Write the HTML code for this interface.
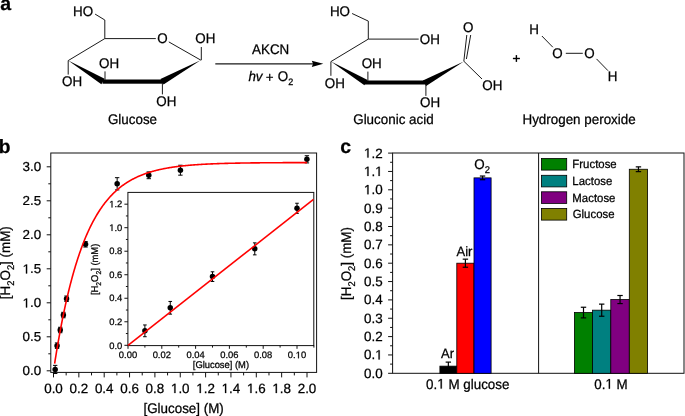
<!DOCTYPE html>
<html><head><meta charset="utf-8"><style>
html,body{margin:0;padding:0;background:#fff;}
svg{display:block;will-change:transform;}
text{font-family:"Liberation Sans",sans-serif;fill:#000;text-rendering:geometricPrecision;stroke:#000;stroke-width:0.25px;}
</style></head><body>
<svg width="685" height="416" viewBox="0 0 685 416">
<rect width="685" height="416" fill="#fff"/>
<text transform="translate(0.33,10.40) scale(1,1.0)" font-size="19.5" font-weight="bold">a</text>
<text transform="translate(73.00,15.60) scale(1,1.04)" font-size="13.4">HO</text>
<line x1="95.10" y1="14.10" x2="104.80" y2="20.00" stroke="#1a1a1a" stroke-width="1.0"/>
<line x1="104.80" y1="20.00" x2="104.80" y2="38.60" stroke="#1a1a1a" stroke-width="1.0"/>
<line x1="104.80" y1="38.60" x2="155.80" y2="38.60" stroke="#1a1a1a" stroke-width="1.0"/>
<text transform="translate(157.17,42.60) scale(1,1.04)" font-size="13.4">O</text>
<line x1="168.80" y1="41.90" x2="200.90" y2="60.20" stroke="#1a1a1a" stroke-width="1.0"/>
<text transform="translate(195.27,43.40) scale(1,1.04)" font-size="13.4">OH</text>
<line x1="201.30" y1="47.00" x2="201.30" y2="60.20" stroke="#1a1a1a" stroke-width="1.0"/>
<line x1="104.80" y1="38.60" x2="68.20" y2="60.60" stroke="#1a1a1a" stroke-width="1.0"/>
<line x1="68.20" y1="60.60" x2="68.20" y2="74.60" stroke="#1a1a1a" stroke-width="1.0"/>
<text transform="translate(61.97,86.00) scale(1,1.04)" font-size="13.4">OH</text>
<polygon points="68.20,60.60 104.65,78.86 101.35,84.34" fill="#000" stroke="none" stroke-width="0"/>
<rect x="102.5" y="79.5" width="60.5" height="4.2" fill="#000"/>
<polygon points="200.60,60.30 160.45,79.00 163.55,84.60" fill="#000" stroke="none" stroke-width="0"/>
<text transform="translate(98.97,68.00) scale(1,1.04)" font-size="13.4">OH</text>
<line x1="105.00" y1="71.40" x2="105.00" y2="80.00" stroke="#1a1a1a" stroke-width="1.0"/>
<text transform="translate(156.37,106.00) scale(1,1.04)" font-size="13.4">OH</text>
<line x1="162.40" y1="83.00" x2="162.40" y2="94.40" stroke="#1a1a1a" stroke-width="1.0"/>
<text transform="translate(107.93,123.50) scale(1,1.04)" font-size="13.4">Glucose</text>
<line x1="215.30" y1="63.80" x2="313.00" y2="63.80" stroke="#1a1a1a" stroke-width="1.2"/>
<polygon points="323.30,63.80 311.80,60.70 313.00,63.80 311.80,66.90" fill="#000" stroke="none" stroke-width="0"/>
<text transform="translate(252.07,54.10) scale(1,1.04)" font-size="13.4">AKCN</text>
<text transform="translate(248.40,81.2) scale(1,1.04)" font-size="13.4"><tspan font-style="italic">hv</tspan> <tspan dx="-0.6" dy="1.1">+</tspan><tspan dx="0.6" dy="-1.1"> O</tspan><tspan font-size="9" dy="3.4">2</tspan></text>
<text transform="translate(329.90,15.90) scale(1,1.04)" font-size="13.4">HO</text>
<line x1="352.10" y1="13.50" x2="368.30" y2="21.10" stroke="#1a1a1a" stroke-width="1.0"/>
<line x1="368.30" y1="21.10" x2="368.30" y2="39.10" stroke="#1a1a1a" stroke-width="1.0"/>
<line x1="368.30" y1="39.10" x2="418.70" y2="39.10" stroke="#1a1a1a" stroke-width="1.0"/>
<text transform="translate(419.77,44.00) scale(1,1.04)" font-size="13.4">OH</text>
<line x1="368.30" y1="39.10" x2="330.90" y2="61.60" stroke="#1a1a1a" stroke-width="1.0"/>
<line x1="330.90" y1="61.60" x2="330.90" y2="75.80" stroke="#1a1a1a" stroke-width="1.0"/>
<text transform="translate(324.87,87.80) scale(1,1.04)" font-size="13.4">OH</text>
<polygon points="331.00,61.60 367.60,79.90 364.40,85.30" fill="#000" stroke="none" stroke-width="0"/>
<rect x="365" y="80.5" width="61" height="4.0" fill="#000"/>
<polygon points="463.80,61.40 422.90,80.40 426.10,86.00" fill="#000" stroke="none" stroke-width="0"/>
<text transform="translate(361.67,68.40) scale(1,1.04)" font-size="13.4">OH</text>
<line x1="367.90" y1="71.60" x2="367.90" y2="81.00" stroke="#1a1a1a" stroke-width="1.0"/>
<text transform="translate(420.07,107.00) scale(1,1.04)" font-size="13.4">OH</text>
<line x1="425.90" y1="84.00" x2="425.90" y2="95.90" stroke="#1a1a1a" stroke-width="1.0"/>
<text transform="translate(482.37,89.50) scale(1,1.04)" font-size="13.4">OH</text>
<line x1="464.00" y1="61.40" x2="482.00" y2="79.00" stroke="#1a1a1a" stroke-width="1.0"/>
<line x1="463.80" y1="61.40" x2="466.80" y2="35.00" stroke="#1a1a1a" stroke-width="1.0"/>
<line x1="466.40" y1="59.00" x2="470.70" y2="35.00" stroke="#1a1a1a" stroke-width="1.0"/>
<text transform="translate(462.97,31.70) scale(1,1.04)" font-size="13.4">O</text>
<text transform="translate(353.23,123.50) scale(1,1.04)" font-size="13.4">Gluconic acid</text>
<line x1="512.90" y1="58.50" x2="519.90" y2="58.50" stroke="#000" stroke-width="1.4"/>
<line x1="516.40" y1="55.10" x2="516.40" y2="61.90" stroke="#000" stroke-width="1.4"/>
<text transform="translate(529.20,33.90) scale(1,1.04)" font-size="13.4">H</text>
<line x1="541.90" y1="36.00" x2="552.80" y2="47.20" stroke="#1a1a1a" stroke-width="1.0"/>
<text transform="translate(552.17,58.20) scale(1,1.04)" font-size="13.4">O</text>
<line x1="565.80" y1="53.30" x2="582.80" y2="53.30" stroke="#1a1a1a" stroke-width="1.0"/>
<text transform="translate(584.27,58.20) scale(1,1.04)" font-size="13.4">O</text>
<line x1="596.50" y1="58.90" x2="608.00" y2="70.70" stroke="#1a1a1a" stroke-width="1.0"/>
<text transform="translate(607.70,80.90) scale(1,1.04)" font-size="13.4">H</text>
<text transform="translate(522.50,124.00) scale(1,1.04)" font-size="13.4">Hydrogen peroxide</text>
<text transform="translate(-1.30,153.10) scale(1,1.0)" font-size="19.2" font-weight="bold">b</text>
<rect x="50.8" y="153.0" width="265.8" height="219.39999999999998" fill="none" stroke="#111" stroke-width="1"/>
<line x1="46.70" y1="370.80" x2="50.80" y2="370.80" stroke="#111" stroke-width="1"/>
<text transform="translate(22.57,375.40) scale(1,0.97)" font-size="13.4">0.0</text>
<line x1="48.30" y1="353.80" x2="50.80" y2="353.80" stroke="#111" stroke-width="1"/>
<line x1="46.70" y1="336.80" x2="50.80" y2="336.80" stroke="#111" stroke-width="1"/>
<text transform="translate(22.57,341.40) scale(1,0.97)" font-size="13.4">0.5</text>
<line x1="48.30" y1="319.80" x2="50.80" y2="319.80" stroke="#111" stroke-width="1"/>
<line x1="46.70" y1="302.80" x2="50.80" y2="302.80" stroke="#111" stroke-width="1"/>
<text transform="translate(22.57,307.40) scale(1,0.97)" font-size="13.4"> .0</text>
<path d="M515 0L515 1237L197 1010L197 1180L530 1409L696 1409L696 0Z" transform="translate(22.57,307.40) scale(0.00654,-0.00635)" fill="#000" stroke="#000" stroke-width="38.2"/>
<line x1="48.30" y1="285.80" x2="50.80" y2="285.80" stroke="#111" stroke-width="1"/>
<line x1="46.70" y1="268.80" x2="50.80" y2="268.80" stroke="#111" stroke-width="1"/>
<text transform="translate(22.57,273.40) scale(1,0.97)" font-size="13.4"> .5</text>
<path d="M515 0L515 1237L197 1010L197 1180L530 1409L696 1409L696 0Z" transform="translate(22.57,273.40) scale(0.00654,-0.00635)" fill="#000" stroke="#000" stroke-width="38.2"/>
<line x1="48.30" y1="251.80" x2="50.80" y2="251.80" stroke="#111" stroke-width="1"/>
<line x1="46.70" y1="234.80" x2="50.80" y2="234.80" stroke="#111" stroke-width="1"/>
<text transform="translate(22.57,239.40) scale(1,0.97)" font-size="13.4">2.0</text>
<line x1="48.30" y1="217.80" x2="50.80" y2="217.80" stroke="#111" stroke-width="1"/>
<line x1="46.70" y1="200.80" x2="50.80" y2="200.80" stroke="#111" stroke-width="1"/>
<text transform="translate(22.57,205.40) scale(1,0.97)" font-size="13.4">2.5</text>
<line x1="48.30" y1="183.80" x2="50.80" y2="183.80" stroke="#111" stroke-width="1"/>
<line x1="46.70" y1="166.80" x2="50.80" y2="166.80" stroke="#111" stroke-width="1"/>
<text transform="translate(22.57,171.40) scale(1,0.97)" font-size="13.4">3.0</text>
<line x1="53.50" y1="372.40" x2="53.50" y2="377.40" stroke="#111" stroke-width="1"/>
<text transform="translate(44.19,393.00) scale(1,1.0)" font-size="13.4">0.0</text>
<line x1="66.17" y1="372.40" x2="66.17" y2="375.40" stroke="#111" stroke-width="1"/>
<line x1="78.85" y1="372.40" x2="78.85" y2="377.40" stroke="#111" stroke-width="1"/>
<text transform="translate(69.54,393.00) scale(1,1.0)" font-size="13.4">0.2</text>
<line x1="91.53" y1="372.40" x2="91.53" y2="375.40" stroke="#111" stroke-width="1"/>
<line x1="104.20" y1="372.40" x2="104.20" y2="377.40" stroke="#111" stroke-width="1"/>
<text transform="translate(94.89,393.00) scale(1,1.0)" font-size="13.4">0.4</text>
<line x1="116.88" y1="372.40" x2="116.88" y2="375.40" stroke="#111" stroke-width="1"/>
<line x1="129.55" y1="372.40" x2="129.55" y2="377.40" stroke="#111" stroke-width="1"/>
<text transform="translate(120.24,393.00) scale(1,1.0)" font-size="13.4">0.6</text>
<line x1="142.23" y1="372.40" x2="142.23" y2="375.40" stroke="#111" stroke-width="1"/>
<line x1="154.90" y1="372.40" x2="154.90" y2="377.40" stroke="#111" stroke-width="1"/>
<text transform="translate(145.59,393.00) scale(1,1.0)" font-size="13.4">0.8</text>
<line x1="167.57" y1="372.40" x2="167.57" y2="375.40" stroke="#111" stroke-width="1"/>
<line x1="180.25" y1="372.40" x2="180.25" y2="377.40" stroke="#111" stroke-width="1"/>
<text transform="translate(170.94,393.00) scale(1,1.0)" font-size="13.4"> .0</text>
<path d="M515 0L515 1237L197 1010L197 1180L530 1409L696 1409L696 0Z" transform="translate(170.94,393.00) scale(0.00654,-0.00654)" fill="#000" stroke="#000" stroke-width="38.2"/>
<line x1="192.93" y1="372.40" x2="192.93" y2="375.40" stroke="#111" stroke-width="1"/>
<line x1="205.60" y1="372.40" x2="205.60" y2="377.40" stroke="#111" stroke-width="1"/>
<text transform="translate(196.29,393.00) scale(1,1.0)" font-size="13.4"> .2</text>
<path d="M515 0L515 1237L197 1010L197 1180L530 1409L696 1409L696 0Z" transform="translate(196.29,393.00) scale(0.00654,-0.00654)" fill="#000" stroke="#000" stroke-width="38.2"/>
<line x1="218.28" y1="372.40" x2="218.28" y2="375.40" stroke="#111" stroke-width="1"/>
<line x1="230.95" y1="372.40" x2="230.95" y2="377.40" stroke="#111" stroke-width="1"/>
<text transform="translate(221.64,393.00) scale(1,1.0)" font-size="13.4"> .4</text>
<path d="M515 0L515 1237L197 1010L197 1180L530 1409L696 1409L696 0Z" transform="translate(221.64,393.00) scale(0.00654,-0.00654)" fill="#000" stroke="#000" stroke-width="38.2"/>
<line x1="243.62" y1="372.40" x2="243.62" y2="375.40" stroke="#111" stroke-width="1"/>
<line x1="256.30" y1="372.40" x2="256.30" y2="377.40" stroke="#111" stroke-width="1"/>
<text transform="translate(246.99,393.00) scale(1,1.0)" font-size="13.4"> .6</text>
<path d="M515 0L515 1237L197 1010L197 1180L530 1409L696 1409L696 0Z" transform="translate(246.99,393.00) scale(0.00654,-0.00654)" fill="#000" stroke="#000" stroke-width="38.2"/>
<line x1="268.98" y1="372.40" x2="268.98" y2="375.40" stroke="#111" stroke-width="1"/>
<line x1="281.65" y1="372.40" x2="281.65" y2="377.40" stroke="#111" stroke-width="1"/>
<text transform="translate(272.34,393.00) scale(1,1.0)" font-size="13.4"> .8</text>
<path d="M515 0L515 1237L197 1010L197 1180L530 1409L696 1409L696 0Z" transform="translate(272.34,393.00) scale(0.00654,-0.00654)" fill="#000" stroke="#000" stroke-width="38.2"/>
<line x1="294.33" y1="372.40" x2="294.33" y2="375.40" stroke="#111" stroke-width="1"/>
<line x1="307.00" y1="372.40" x2="307.00" y2="377.40" stroke="#111" stroke-width="1"/>
<text transform="translate(297.69,393.00) scale(1,1.0)" font-size="13.4">2.0</text>
<text transform="translate(183.60,412.50) scale(1,1.04)" font-size="13.4" text-anchor="middle">[Glucose] (M)</text>
<text transform="translate(9.8,262.7) rotate(-90) scale(1,1.04)" font-size="13.4" text-anchor="middle">[H<tspan font-size="9.4" dy="3.8">2</tspan><tspan dy="-3.8">O</tspan><tspan font-size="9.4" dy="3.8">2</tspan><tspan dy="-3.8">] (mM)</tspan></text>
<line x1="55.16" y1="365.36" x2="55.16" y2="373.52" stroke="#000" stroke-width="1"/>
<line x1="52.96" y1="365.36" x2="57.37" y2="365.36" stroke="#000" stroke-width="1"/>
<line x1="52.96" y1="373.52" x2="57.37" y2="373.52" stroke="#000" stroke-width="1"/>
<circle cx="55.16" cy="369.44" r="2.75" fill="#000"/>
<line x1="57.06" y1="342.92" x2="57.06" y2="348.36" stroke="#000" stroke-width="1"/>
<line x1="54.86" y1="342.92" x2="59.26" y2="342.92" stroke="#000" stroke-width="1"/>
<line x1="54.86" y1="348.36" x2="59.26" y2="348.36" stroke="#000" stroke-width="1"/>
<circle cx="57.06" cy="345.64" r="2.75" fill="#000"/>
<line x1="60.23" y1="327.28" x2="60.23" y2="332.72" stroke="#000" stroke-width="1"/>
<line x1="58.02" y1="327.28" x2="62.43" y2="327.28" stroke="#000" stroke-width="1"/>
<line x1="58.02" y1="332.72" x2="62.43" y2="332.72" stroke="#000" stroke-width="1"/>
<circle cx="60.23" cy="330.00" r="2.75" fill="#000"/>
<line x1="63.39" y1="312.32" x2="63.39" y2="317.76" stroke="#000" stroke-width="1"/>
<line x1="61.19" y1="312.32" x2="65.59" y2="312.32" stroke="#000" stroke-width="1"/>
<line x1="61.19" y1="317.76" x2="65.59" y2="317.76" stroke="#000" stroke-width="1"/>
<circle cx="63.39" cy="315.04" r="2.75" fill="#000"/>
<line x1="66.55" y1="296.00" x2="66.55" y2="301.44" stroke="#000" stroke-width="1"/>
<line x1="64.35" y1="296.00" x2="68.75" y2="296.00" stroke="#000" stroke-width="1"/>
<line x1="64.35" y1="301.44" x2="68.75" y2="301.44" stroke="#000" stroke-width="1"/>
<circle cx="66.55" cy="298.72" r="2.75" fill="#000"/>
<line x1="85.53" y1="241.60" x2="85.53" y2="247.04" stroke="#000" stroke-width="1"/>
<line x1="83.33" y1="241.60" x2="87.73" y2="241.60" stroke="#000" stroke-width="1"/>
<line x1="83.33" y1="247.04" x2="87.73" y2="247.04" stroke="#000" stroke-width="1"/>
<circle cx="85.53" cy="244.32" r="2.75" fill="#000"/>
<line x1="117.15" y1="177.68" x2="117.15" y2="189.92" stroke="#000" stroke-width="1"/>
<line x1="114.95" y1="177.68" x2="119.35" y2="177.68" stroke="#000" stroke-width="1"/>
<line x1="114.95" y1="189.92" x2="119.35" y2="189.92" stroke="#000" stroke-width="1"/>
<circle cx="117.15" cy="183.80" r="2.75" fill="#000"/>
<line x1="148.78" y1="171.90" x2="148.78" y2="178.70" stroke="#000" stroke-width="1"/>
<line x1="146.58" y1="171.90" x2="150.97" y2="171.90" stroke="#000" stroke-width="1"/>
<line x1="146.58" y1="178.70" x2="150.97" y2="178.70" stroke="#000" stroke-width="1"/>
<circle cx="148.78" cy="175.30" r="2.75" fill="#000"/>
<line x1="180.40" y1="165.24" x2="180.40" y2="175.16" stroke="#000" stroke-width="1"/>
<line x1="178.20" y1="165.24" x2="182.60" y2="165.24" stroke="#000" stroke-width="1"/>
<line x1="178.20" y1="175.16" x2="182.60" y2="175.16" stroke="#000" stroke-width="1"/>
<circle cx="180.40" cy="170.20" r="2.75" fill="#000"/>
<line x1="306.90" y1="155.72" x2="306.90" y2="162.92" stroke="#000" stroke-width="1"/>
<line x1="304.70" y1="155.72" x2="309.10" y2="155.72" stroke="#000" stroke-width="1"/>
<line x1="304.70" y1="162.92" x2="309.10" y2="162.92" stroke="#000" stroke-width="1"/>
<circle cx="306.90" cy="159.32" r="2.75" fill="#000"/>
<polyline points="54.64,363.51 55.27,359.49 55.91,355.56 56.54,351.70 57.17,347.92 57.80,344.22 58.44,340.59 59.07,337.03 59.70,333.55 60.33,330.13 60.97,326.78 61.60,323.50 62.23,320.28 62.86,317.13 63.50,314.04 64.13,311.02 64.76,308.05 65.39,305.14 66.03,302.29 66.66,299.50 67.29,296.77 67.92,294.08 68.56,291.46 69.19,288.88 69.82,286.36 70.45,283.88 71.09,281.46 71.72,279.08 72.35,276.75 72.98,274.47 73.62,272.24 74.25,270.04 74.88,267.90 75.51,265.79 76.15,263.73 76.78,261.71 77.41,259.73 78.04,257.78 78.67,255.88 79.31,254.02 79.94,252.19 80.57,250.40 81.20,248.64 81.84,246.92 82.47,245.24 83.10,243.58 83.73,241.97 84.37,240.38 85.00,238.82 85.63,237.30 86.26,235.81 86.90,234.34 87.53,232.91 88.16,231.50 88.79,230.12 89.43,228.77 90.06,227.45 90.69,226.15 91.32,224.88 91.96,223.64 92.59,222.42 93.22,221.22 93.85,220.05 94.49,218.90 95.12,217.77 95.75,216.67 96.38,215.59 97.02,214.53 97.65,213.49 98.28,212.47 98.91,211.47 99.55,210.50 100.18,209.54 100.81,208.60 101.44,207.68 102.08,206.78 102.71,205.89 103.34,205.03 103.97,204.18 104.61,203.35 105.24,202.53 105.87,201.73 106.50,200.95 107.14,200.18 107.77,199.43 108.40,198.69 109.03,197.97 109.67,197.26 110.30,196.57 110.93,195.89 111.56,195.22 112.20,194.57 112.83,193.93 113.46,193.30 114.09,192.69 114.73,192.08 115.36,191.49 115.99,190.92 116.62,190.35 117.26,189.79 117.89,189.25 118.52,188.72 119.15,188.19 119.79,187.68 120.42,187.18 121.05,186.69 121.68,186.20 122.32,185.73 122.95,185.27 123.58,184.81 124.21,184.37 124.85,183.93 125.48,183.50 126.11,183.08 126.74,182.67 127.38,182.27 128.01,181.88 128.64,181.49 129.27,181.11 129.91,180.74 130.54,180.38 131.17,180.02 131.80,179.67 132.44,179.33 133.07,178.99 133.70,178.67 134.33,178.34 134.97,178.03 135.60,177.72 136.23,177.41 136.86,177.12 137.50,176.83 138.13,176.54 138.76,176.26 139.39,175.99 140.03,175.72 140.66,175.45 141.29,175.20 141.92,174.94 142.56,174.70 143.19,174.45 143.82,174.21 144.45,173.98 145.09,173.75 145.72,173.53 146.35,173.31 146.98,173.09 147.62,172.88 148.25,172.68 148.88,172.47 149.51,172.28 150.15,172.08 150.78,171.89 151.41,171.70 152.04,171.52 152.68,171.34 153.31,171.16 153.94,170.99 154.57,170.82 155.20,170.66 155.84,170.50 156.47,170.34 157.10,170.18 157.73,170.03 158.37,169.88 159.00,169.73 159.63,169.59 160.26,169.45 160.90,169.31 161.53,169.17 162.16,169.04 162.79,168.91 163.43,168.78 164.06,168.66 164.69,168.54 165.32,168.42 165.96,168.30 166.59,168.18 167.22,168.07 167.85,167.96 168.49,167.85 169.12,167.75 169.75,167.64 170.38,167.54 171.02,167.44 171.65,167.34 172.28,167.25 172.91,167.15 173.55,167.06 174.18,166.97 174.81,166.88 175.44,166.79 176.08,166.71 176.71,166.63 177.34,166.54 177.97,166.46 178.61,166.39 179.24,166.31 179.87,166.23 180.50,166.16 181.14,166.09 181.77,166.02 182.40,165.95 183.03,165.88 183.67,165.81 184.30,165.75 184.93,165.68 185.56,165.62 186.20,165.56 186.83,165.50 187.46,165.44 188.09,165.38 188.73,165.32 189.36,165.27 189.99,165.21 190.62,165.16 191.26,165.11 191.89,165.06 192.52,165.01 193.15,164.96 193.79,164.91 194.42,164.86 195.05,164.81 195.68,164.77 196.32,164.72 196.95,164.68 197.58,164.64 198.21,164.60 198.85,164.55 199.48,164.51 200.11,164.47 200.74,164.44 201.38,164.40 202.01,164.36 202.64,164.32 203.27,164.29 203.91,164.25 204.54,164.22 205.17,164.19 205.80,164.15 206.44,164.12 207.07,164.09 207.70,164.06 208.33,164.03 208.97,164.00 209.60,163.97 210.23,163.94 210.86,163.91 211.50,163.88 212.13,163.86 212.76,163.83 213.39,163.80 214.03,163.78 214.66,163.75 215.29,163.73 215.92,163.71 216.56,163.68 217.19,163.66 217.82,163.64 218.45,163.62 219.09,163.59 219.72,163.57 220.35,163.55 220.98,163.53 221.62,163.51 222.25,163.49 222.88,163.47 223.51,163.45 224.15,163.44 224.78,163.42 225.41,163.40 226.04,163.38 226.68,163.37 227.31,163.35 227.94,163.33 228.57,163.32 229.21,163.30 229.84,163.29 230.47,163.27 231.10,163.26 231.73,163.24 232.37,163.23 233.00,163.22 233.63,163.20 234.26,163.19 234.90,163.18 235.53,163.16 236.16,163.15 236.79,163.14 237.43,163.13 238.06,163.11 238.69,163.10 239.32,163.09 239.96,163.08 240.59,163.07 241.22,163.06 241.85,163.05 242.49,163.04 243.12,163.03 243.75,163.02 244.38,163.01 245.02,163.00 245.65,162.99 246.28,162.98 246.91,162.97 247.55,162.96 248.18,162.95 248.81,162.95 249.44,162.94 250.08,162.93 250.71,162.92 251.34,162.91 251.97,162.91 252.61,162.90 253.24,162.89 253.87,162.89 254.50,162.88 255.14,162.87 255.77,162.86 256.40,162.86 257.03,162.85 257.67,162.85 258.30,162.84 258.93,162.83 259.56,162.83 260.20,162.82 260.83,162.82 261.46,162.81 262.09,162.80 262.73,162.80 263.36,162.79 263.99,162.79 264.62,162.78 265.26,162.78 265.89,162.77 266.52,162.77 267.15,162.76 267.79,162.76 268.42,162.76 269.05,162.75 269.68,162.75 270.32,162.74 270.95,162.74 271.58,162.73 272.21,162.73 272.85,162.73 273.48,162.72 274.11,162.72 274.74,162.72 275.38,162.71 276.01,162.71 276.64,162.71 277.27,162.70 277.91,162.70 278.54,162.70 279.17,162.69 279.80,162.69 280.44,162.69 281.07,162.68 281.70,162.68 282.33,162.68 282.97,162.67 283.60,162.67 284.23,162.67 284.86,162.67 285.50,162.66 286.13,162.66 286.76,162.66 287.39,162.66 288.03,162.65 288.66,162.65 289.29,162.65 289.92,162.65 290.56,162.64 291.19,162.64 291.82,162.64 292.45,162.64 293.09,162.64 293.72,162.63 294.35,162.63 294.98,162.63 295.62,162.63 296.25,162.63 296.88,162.62 297.51,162.62 298.15,162.62 298.78,162.62 299.41,162.62 300.04,162.62 300.68,162.61 301.31,162.61 301.94,162.61 302.57,162.61 303.21,162.61 303.84,162.61 304.47,162.61 305.10,162.60 305.74,162.60 306.37,162.60 307.00,162.60" fill="none" stroke="#ff0000" stroke-width="1.6"/>
<rect x="127.9" y="192.4" width="185.9" height="153.20000000000002" fill="#fff" stroke="#111" stroke-width="1"/>
<line x1="124.40" y1="345.30" x2="127.90" y2="345.30" stroke="#111" stroke-width="1"/>
<text transform="translate(109.23,348.50) scale(1,1.0)" font-size="9.4">0.0</text>
<line x1="125.90" y1="333.54" x2="127.90" y2="333.54" stroke="#111" stroke-width="1"/>
<line x1="124.40" y1="321.78" x2="127.90" y2="321.78" stroke="#111" stroke-width="1"/>
<text transform="translate(109.23,324.98) scale(1,1.0)" font-size="9.4">0.2</text>
<line x1="125.90" y1="310.02" x2="127.90" y2="310.02" stroke="#111" stroke-width="1"/>
<line x1="124.40" y1="298.26" x2="127.90" y2="298.26" stroke="#111" stroke-width="1"/>
<text transform="translate(109.23,301.46) scale(1,1.0)" font-size="9.4">0.4</text>
<line x1="125.90" y1="286.50" x2="127.90" y2="286.50" stroke="#111" stroke-width="1"/>
<line x1="124.40" y1="274.74" x2="127.90" y2="274.74" stroke="#111" stroke-width="1"/>
<text transform="translate(109.23,277.94) scale(1,1.0)" font-size="9.4">0.6</text>
<line x1="125.90" y1="262.98" x2="127.90" y2="262.98" stroke="#111" stroke-width="1"/>
<line x1="124.40" y1="251.22" x2="127.90" y2="251.22" stroke="#111" stroke-width="1"/>
<text transform="translate(109.23,254.42) scale(1,1.0)" font-size="9.4">0.8</text>
<line x1="125.90" y1="239.46" x2="127.90" y2="239.46" stroke="#111" stroke-width="1"/>
<line x1="124.40" y1="227.70" x2="127.90" y2="227.70" stroke="#111" stroke-width="1"/>
<text transform="translate(109.23,230.90) scale(1,1.0)" font-size="9.4"> .0</text>
<path d="M515 0L515 1237L197 1010L197 1180L530 1409L696 1409L696 0Z" transform="translate(109.23,230.90) scale(0.00459,-0.00459)" fill="#000" stroke="#000" stroke-width="54.5"/>
<line x1="125.90" y1="215.94" x2="127.90" y2="215.94" stroke="#111" stroke-width="1"/>
<line x1="124.40" y1="204.18" x2="127.90" y2="204.18" stroke="#111" stroke-width="1"/>
<text transform="translate(109.23,207.38) scale(1,1.0)" font-size="9.4"> .2</text>
<path d="M515 0L515 1237L197 1010L197 1180L530 1409L696 1409L696 0Z" transform="translate(109.23,207.38) scale(0.00459,-0.00459)" fill="#000" stroke="#000" stroke-width="54.5"/>
<line x1="128.00" y1="345.60" x2="128.00" y2="348.80" stroke="#111" stroke-width="1"/>
<text transform="translate(118.85,358.30) scale(1,1.0)" font-size="9.4">0.00</text>
<line x1="144.90" y1="345.60" x2="144.90" y2="347.60" stroke="#111" stroke-width="1"/>
<line x1="161.80" y1="345.60" x2="161.80" y2="348.80" stroke="#111" stroke-width="1"/>
<text transform="translate(152.65,358.30) scale(1,1.0)" font-size="9.4">0.02</text>
<line x1="178.70" y1="345.60" x2="178.70" y2="347.60" stroke="#111" stroke-width="1"/>
<line x1="195.60" y1="345.60" x2="195.60" y2="348.80" stroke="#111" stroke-width="1"/>
<text transform="translate(186.45,358.30) scale(1,1.0)" font-size="9.4">0.04</text>
<line x1="212.50" y1="345.60" x2="212.50" y2="347.60" stroke="#111" stroke-width="1"/>
<line x1="229.40" y1="345.60" x2="229.40" y2="348.80" stroke="#111" stroke-width="1"/>
<text transform="translate(220.25,358.30) scale(1,1.0)" font-size="9.4">0.06</text>
<line x1="246.30" y1="345.60" x2="246.30" y2="347.60" stroke="#111" stroke-width="1"/>
<line x1="263.20" y1="345.60" x2="263.20" y2="348.80" stroke="#111" stroke-width="1"/>
<text transform="translate(254.05,358.30) scale(1,1.0)" font-size="9.4">0.08</text>
<line x1="280.10" y1="345.60" x2="280.10" y2="347.60" stroke="#111" stroke-width="1"/>
<line x1="297.00" y1="345.60" x2="297.00" y2="348.80" stroke="#111" stroke-width="1"/>
<text transform="translate(287.85,358.30) scale(1,1.0)" font-size="9.4">0. 0</text>
<path d="M515 0L515 1237L197 1010L197 1180L530 1409L696 1409L696 0Z" transform="translate(295.69,358.30) scale(0.00459,-0.00459)" fill="#000" stroke="#000" stroke-width="54.5"/>
<line x1="313.90" y1="345.60" x2="313.90" y2="347.60" stroke="#111" stroke-width="1"/>
<text transform="translate(220.90,368.30) scale(1,1.04)" font-size="9.4" text-anchor="middle">[Glucose] (M)</text>
<text transform="translate(97.5,269.4) rotate(-90) scale(1,1.04)" font-size="9.4" text-anchor="middle">[H<tspan font-size="6.8" dy="3.8">2</tspan><tspan dy="-3.8">O</tspan><tspan font-size="6.8" dy="3.8">2</tspan><tspan dy="-3.8">] (mM)</tspan></text>
<line x1="144.90" y1="324.96" x2="144.90" y2="336.72" stroke="#000" stroke-width="1"/>
<line x1="143.10" y1="324.96" x2="146.70" y2="324.96" stroke="#000" stroke-width="1"/>
<line x1="143.10" y1="336.72" x2="146.70" y2="336.72" stroke="#000" stroke-width="1"/>
<circle cx="144.90" cy="330.84" r="2.75" fill="#000"/>
<line x1="170.25" y1="301.44" x2="170.25" y2="314.14" stroke="#000" stroke-width="1"/>
<line x1="168.45" y1="301.44" x2="172.05" y2="301.44" stroke="#000" stroke-width="1"/>
<line x1="168.45" y1="314.14" x2="172.05" y2="314.14" stroke="#000" stroke-width="1"/>
<circle cx="170.25" cy="307.79" r="2.75" fill="#000"/>
<line x1="212.50" y1="271.80" x2="212.50" y2="281.44" stroke="#000" stroke-width="1"/>
<line x1="210.70" y1="271.80" x2="214.30" y2="271.80" stroke="#000" stroke-width="1"/>
<line x1="210.70" y1="281.44" x2="214.30" y2="281.44" stroke="#000" stroke-width="1"/>
<circle cx="212.50" cy="276.62" r="2.75" fill="#000"/>
<line x1="254.75" y1="242.87" x2="254.75" y2="254.87" stroke="#000" stroke-width="1"/>
<line x1="252.95" y1="242.87" x2="256.55" y2="242.87" stroke="#000" stroke-width="1"/>
<line x1="252.95" y1="254.87" x2="256.55" y2="254.87" stroke="#000" stroke-width="1"/>
<circle cx="254.75" cy="248.87" r="2.75" fill="#000"/>
<line x1="297.00" y1="203.24" x2="297.00" y2="213.35" stroke="#000" stroke-width="1"/>
<line x1="295.20" y1="203.24" x2="298.80" y2="203.24" stroke="#000" stroke-width="1"/>
<line x1="295.20" y1="213.35" x2="298.80" y2="213.35" stroke="#000" stroke-width="1"/>
<circle cx="297.00" cy="208.30" r="2.75" fill="#000"/>
<line x1="128.00" y1="345.30" x2="313.50" y2="199.44" stroke="#ff0000" stroke-width="1.6"/>
<text transform="translate(340.24,153.30) scale(1,1.0)" font-size="19.5" font-weight="bold">c</text>
<rect x="392.6" y="153.0" width="291.4" height="220.3" fill="none" stroke="#111" stroke-width="1"/>
<line x1="538.60" y1="153.00" x2="538.60" y2="373.30" stroke="#111" stroke-width="1"/>
<line x1="388.10" y1="373.30" x2="392.60" y2="373.30" stroke="#111" stroke-width="1"/>
<text transform="translate(363.97,377.80) scale(1,1.0)" font-size="13.4">0.0</text>
<line x1="390.10" y1="364.12" x2="392.60" y2="364.12" stroke="#111" stroke-width="1"/>
<line x1="388.10" y1="354.95" x2="392.60" y2="354.95" stroke="#111" stroke-width="1"/>
<text transform="translate(363.97,359.45) scale(1,1.0)" font-size="13.4">0. </text>
<path d="M515 0L515 1237L197 1010L197 1180L530 1409L696 1409L696 0Z" transform="translate(375.15,359.45) scale(0.00654,-0.00654)" fill="#000" stroke="#000" stroke-width="38.2"/>
<line x1="390.10" y1="345.77" x2="392.60" y2="345.77" stroke="#111" stroke-width="1"/>
<line x1="388.10" y1="336.60" x2="392.60" y2="336.60" stroke="#111" stroke-width="1"/>
<text transform="translate(363.97,341.10) scale(1,1.0)" font-size="13.4">0.2</text>
<line x1="390.10" y1="327.43" x2="392.60" y2="327.43" stroke="#111" stroke-width="1"/>
<line x1="388.10" y1="318.25" x2="392.60" y2="318.25" stroke="#111" stroke-width="1"/>
<text transform="translate(363.97,322.75) scale(1,1.0)" font-size="13.4">0.3</text>
<line x1="390.10" y1="309.07" x2="392.60" y2="309.07" stroke="#111" stroke-width="1"/>
<line x1="388.10" y1="299.90" x2="392.60" y2="299.90" stroke="#111" stroke-width="1"/>
<text transform="translate(363.97,304.40) scale(1,1.0)" font-size="13.4">0.4</text>
<line x1="390.10" y1="290.73" x2="392.60" y2="290.73" stroke="#111" stroke-width="1"/>
<line x1="388.10" y1="281.55" x2="392.60" y2="281.55" stroke="#111" stroke-width="1"/>
<text transform="translate(363.97,286.05) scale(1,1.0)" font-size="13.4">0.5</text>
<line x1="390.10" y1="272.38" x2="392.60" y2="272.38" stroke="#111" stroke-width="1"/>
<line x1="388.10" y1="263.20" x2="392.60" y2="263.20" stroke="#111" stroke-width="1"/>
<text transform="translate(363.97,267.70) scale(1,1.0)" font-size="13.4">0.6</text>
<line x1="390.10" y1="254.03" x2="392.60" y2="254.03" stroke="#111" stroke-width="1"/>
<line x1="388.10" y1="244.85" x2="392.60" y2="244.85" stroke="#111" stroke-width="1"/>
<text transform="translate(363.97,249.35) scale(1,1.0)" font-size="13.4">0.7</text>
<line x1="390.10" y1="235.68" x2="392.60" y2="235.68" stroke="#111" stroke-width="1"/>
<line x1="388.10" y1="226.50" x2="392.60" y2="226.50" stroke="#111" stroke-width="1"/>
<text transform="translate(363.97,231.00) scale(1,1.0)" font-size="13.4">0.8</text>
<line x1="390.10" y1="217.32" x2="392.60" y2="217.32" stroke="#111" stroke-width="1"/>
<line x1="388.10" y1="208.15" x2="392.60" y2="208.15" stroke="#111" stroke-width="1"/>
<text transform="translate(363.97,212.65) scale(1,1.0)" font-size="13.4">0.9</text>
<line x1="390.10" y1="198.97" x2="392.60" y2="198.97" stroke="#111" stroke-width="1"/>
<line x1="388.10" y1="189.80" x2="392.60" y2="189.80" stroke="#111" stroke-width="1"/>
<text transform="translate(363.97,194.30) scale(1,1.0)" font-size="13.4"> .0</text>
<path d="M515 0L515 1237L197 1010L197 1180L530 1409L696 1409L696 0Z" transform="translate(363.97,194.30) scale(0.00654,-0.00654)" fill="#000" stroke="#000" stroke-width="38.2"/>
<line x1="390.10" y1="180.62" x2="392.60" y2="180.62" stroke="#111" stroke-width="1"/>
<line x1="388.10" y1="171.45" x2="392.60" y2="171.45" stroke="#111" stroke-width="1"/>
<text transform="translate(363.97,175.95) scale(1,1.0)" font-size="13.4"> . </text>
<path d="M515 0L515 1237L197 1010L197 1180L530 1409L696 1409L696 0Z" transform="translate(363.97,175.95) scale(0.00654,-0.00654)" fill="#000" stroke="#000" stroke-width="38.2"/>
<path d="M515 0L515 1237L197 1010L197 1180L530 1409L696 1409L696 0Z" transform="translate(375.15,175.95) scale(0.00654,-0.00654)" fill="#000" stroke="#000" stroke-width="38.2"/>
<line x1="390.10" y1="162.27" x2="392.60" y2="162.27" stroke="#111" stroke-width="1"/>
<line x1="388.10" y1="153.10" x2="392.60" y2="153.10" stroke="#111" stroke-width="1"/>
<text transform="translate(363.97,157.60) scale(1,1.0)" font-size="13.4"> .2</text>
<path d="M515 0L515 1237L197 1010L197 1180L530 1409L696 1409L696 0Z" transform="translate(363.97,157.60) scale(0.00654,-0.00654)" fill="#000" stroke="#000" stroke-width="38.2"/>
<text transform="translate(350.6,263.5) rotate(-90) scale(1,1.04)" font-size="13.4" text-anchor="middle">[H<tspan font-size="9.4" dy="3.8">2</tspan><tspan dy="-3.8">O</tspan><tspan font-size="9.4" dy="3.8">2</tspan><tspan dy="-3.8">] (mM)</tspan></text>
<rect x="439.90" y="366.14" width="16.90" height="7.16" fill="#000000" stroke="#000" stroke-width="0.8"/>
<line x1="448.35" y1="362.11" x2="448.35" y2="370.18" stroke="#000" stroke-width="1.2"/>
<line x1="445.65" y1="362.11" x2="451.05" y2="362.11" stroke="#000" stroke-width="1.2"/>
<line x1="445.65" y1="370.18" x2="451.05" y2="370.18" stroke="#000" stroke-width="1.2"/>
<rect x="456.80" y="263.20" width="17.20" height="110.10" fill="#ff0000" stroke="#000" stroke-width="0.8"/>
<line x1="465.40" y1="259.16" x2="465.40" y2="267.24" stroke="#000" stroke-width="1.2"/>
<line x1="462.70" y1="259.16" x2="468.10" y2="259.16" stroke="#000" stroke-width="1.2"/>
<line x1="462.70" y1="267.24" x2="468.10" y2="267.24" stroke="#000" stroke-width="1.2"/>
<rect x="474.00" y="177.87" width="17.10" height="195.43" fill="#0000ff" stroke="#000" stroke-width="0.8"/>
<line x1="482.55" y1="176.04" x2="482.55" y2="179.71" stroke="#000" stroke-width="1.2"/>
<line x1="479.85" y1="176.04" x2="485.25" y2="176.04" stroke="#000" stroke-width="1.2"/>
<line x1="479.85" y1="179.71" x2="485.25" y2="179.71" stroke="#000" stroke-width="1.2"/>
<rect x="574.40" y="312.56" width="18.20" height="60.74" fill="#008000" stroke="#000" stroke-width="0.8"/>
<line x1="583.50" y1="307.24" x2="583.50" y2="317.88" stroke="#000" stroke-width="1.2"/>
<line x1="580.80" y1="307.24" x2="586.20" y2="307.24" stroke="#000" stroke-width="1.2"/>
<line x1="580.80" y1="317.88" x2="586.20" y2="317.88" stroke="#000" stroke-width="1.2"/>
<rect x="592.60" y="310.18" width="18.20" height="63.12" fill="#008080" stroke="#000" stroke-width="0.8"/>
<line x1="601.70" y1="304.12" x2="601.70" y2="316.23" stroke="#000" stroke-width="1.2"/>
<line x1="599.00" y1="304.12" x2="604.40" y2="304.12" stroke="#000" stroke-width="1.2"/>
<line x1="599.00" y1="316.23" x2="604.40" y2="316.23" stroke="#000" stroke-width="1.2"/>
<rect x="610.80" y="299.53" width="18.50" height="73.77" fill="#800080" stroke="#000" stroke-width="0.8"/>
<line x1="620.05" y1="295.50" x2="620.05" y2="303.57" stroke="#000" stroke-width="1.2"/>
<line x1="617.35" y1="295.50" x2="622.75" y2="295.50" stroke="#000" stroke-width="1.2"/>
<line x1="617.35" y1="303.57" x2="622.75" y2="303.57" stroke="#000" stroke-width="1.2"/>
<rect x="629.30" y="169.25" width="18.30" height="204.05" fill="#808000" stroke="#000" stroke-width="0.8"/>
<line x1="638.45" y1="166.86" x2="638.45" y2="171.63" stroke="#000" stroke-width="1.2"/>
<line x1="635.75" y1="166.86" x2="641.15" y2="166.86" stroke="#000" stroke-width="1.2"/>
<line x1="635.75" y1="171.63" x2="641.15" y2="171.63" stroke="#000" stroke-width="1.2"/>
<text transform="translate(440.97,357.90) scale(1,1.04)" font-size="13">Ar</text>
<text transform="translate(456.47,255.60) scale(1,1.04)" font-size="13">Air</text>
<text transform="translate(474.30,169.2) scale(1,1.04)" font-size="13.4">O<tspan font-size="9.4" dy="3.8">2</tspan></text>
<rect x="541.4" y="158.5" width="25.3" height="11.6" fill="#008000" stroke="#000" stroke-width="0.8"/>
<text transform="translate(572.36,168.20) scale(1,1.04)" font-size="11.4">Fructose</text>
<rect x="541.4" y="175.3" width="25.3" height="11.6" fill="#008080" stroke="#000" stroke-width="0.8"/>
<text transform="translate(572.36,185.00) scale(1,1.04)" font-size="11.4">Lactose</text>
<rect x="541.4" y="191.8" width="25.3" height="11.6" fill="#800080" stroke="#000" stroke-width="0.8"/>
<text transform="translate(572.36,201.50) scale(1,1.04)" font-size="11.4">Mactose</text>
<rect x="541.4" y="208.5" width="25.3" height="11.6" fill="#808000" stroke="#000" stroke-width="0.8"/>
<text transform="translate(572.73,218.20) scale(1,1.04)" font-size="11.4">Glucose</text>
<text transform="translate(426.09,388.60) scale(1,1.04)" font-size="13.4">0.  M glucose</text>
<path d="M515 0L515 1237L197 1010L197 1180L530 1409L696 1409L696 0Z" transform="translate(437.26,388.60) scale(0.00654,-0.00680)" fill="#000" stroke="#000" stroke-width="38.2"/>
<text transform="translate(594.24,388.70) scale(1,1.04)" font-size="13.4">0.  M</text>
<path d="M515 0L515 1237L197 1010L197 1180L530 1409L696 1409L696 0Z" transform="translate(605.42,388.70) scale(0.00654,-0.00680)" fill="#000" stroke="#000" stroke-width="38.2"/>
</svg>
</body></html>
